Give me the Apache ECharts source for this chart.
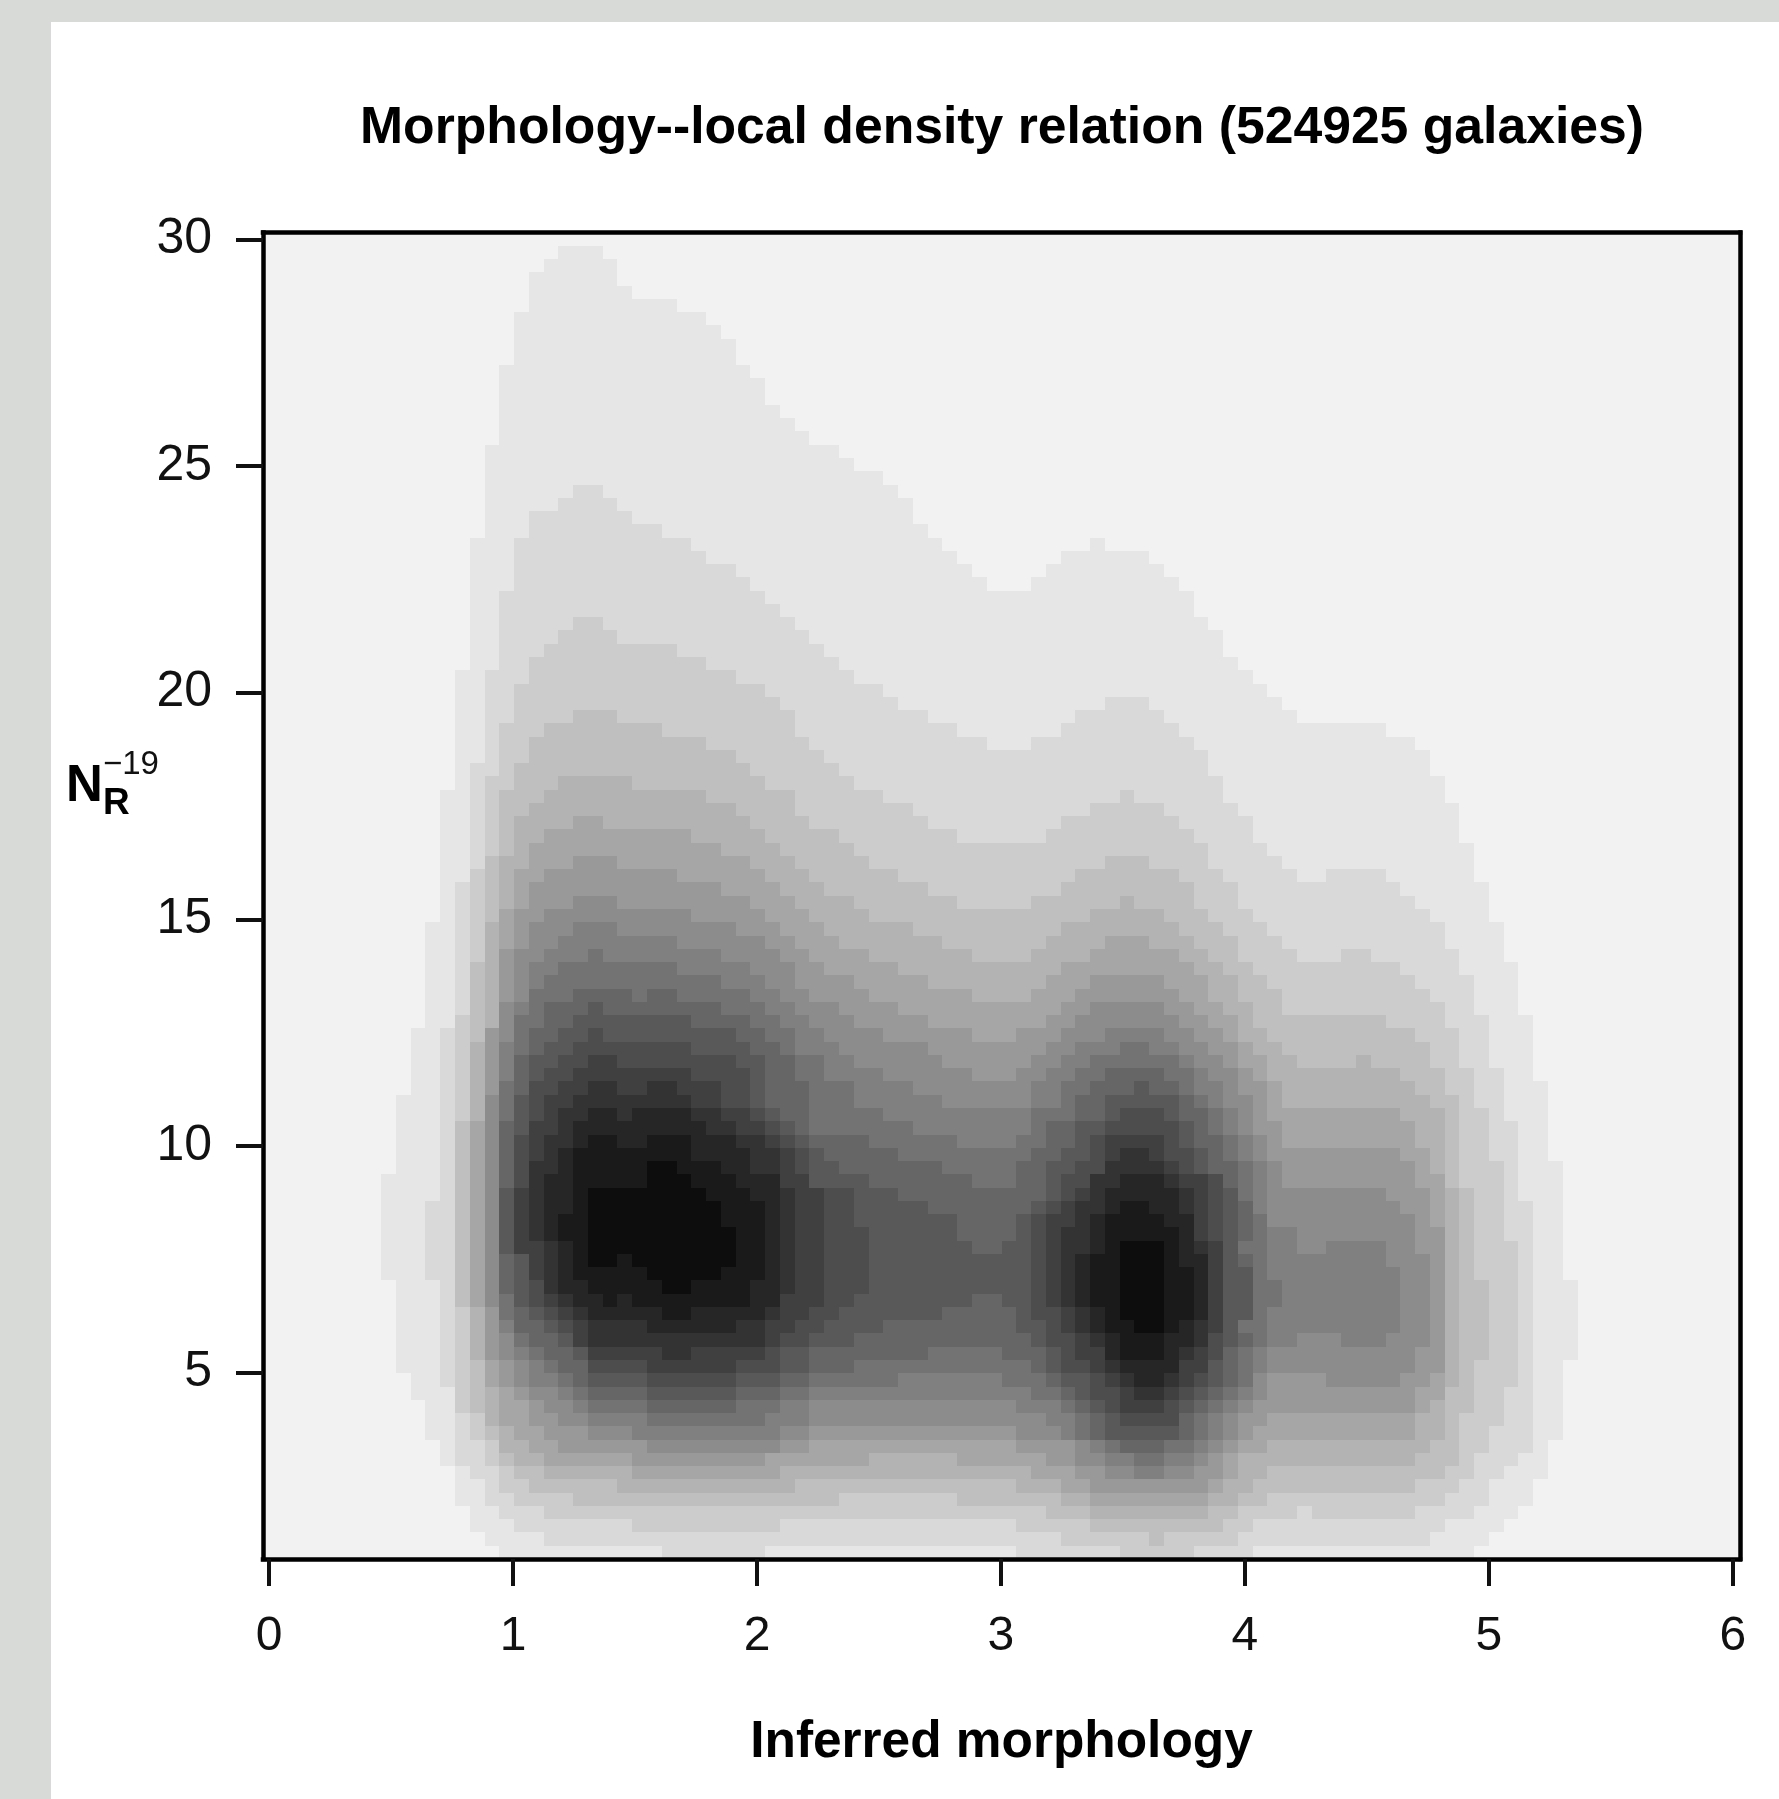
<!DOCTYPE html>
<html><head><meta charset="utf-8">
<style>html,body{margin:0;padding:0;background:#d7dad6}#c{width:1779px;height:1799px}</style>
<script src="https://cdn.jsdelivr.net/npm/echarts@6/dist/echarts.min.js"></script>
</head><body><div id="c"></div>
<script>
const titleText = "Morphology--local density relation (524925 galaxies)";
const xLabelText = "Inferred morphology";
const xTicks = [0,1,2,3,4,5,6];
const yTicks = [5,10,15,20,25,30];
const xRange = [-0.0246, 6.029];
const yRange = [0.887, 30.15];
const gridSize = 100;
// grey of each density level: gray(0.95, 0.90, ... 0.05)
const levelGreys = [0.95,0.90,0.85,0.80,0.75,0.70,0.65,0.60,0.55,0.50,0.45,0.40,0.35,0.30,0.25,0.20,0.15,0.10,0.05];
// one list per image row, top to bottom: start column, level, start column, level ...
const rowRuns = [
[],
[20,1,23,0],
[19,1,24,0],
[18,1,24,0],
[18,1,25,0],
[18,1,28,0],
[17,1,30,0],
[17,1,31,0],
[17,1,32,0],
[17,1,32,0],
[16,1,33,0],
[16,1,34,0],
[16,1,34,0],
[16,1,35,0],
[16,1,36,0],
[16,1,37,0],
[15,1,39,0],
[15,1,40,0],
[15,1,42,0],
[15,1,21,2,23,1,43,0],
[15,1,20,2,24,1,44,0],
[15,1,18,2,25,1,44,0],
[15,1,18,2,27,1,45,0],
[14,1,17,2,29,1,46,0,56,1,57,0],
[14,1,17,2,30,1,47,0,54,1,60,0],
[14,1,17,2,32,1,48,0,53,1,61,0],
[14,1,17,2,33,1,49,0,52,1,62,0],
[14,1,16,2,34,1,63,0],
[14,1,16,2,35,1,63,0],
[14,1,16,2,21,3,23,2,36,1,64,0],
[14,1,16,2,20,3,24,2,37,1,65,0],
[14,1,16,2,19,3,28,2,38,1,65,0],
[14,1,16,2,18,3,30,2,39,1,66,0],
[13,1,15,2,18,3,32,2,40,1,67,0],
[13,1,15,2,17,3,34,2,42,1,68,0],
[13,1,15,2,17,3,35,2,43,1,57,2,60,1,69,0],
[13,1,15,2,17,3,21,4,24,3,36,2,45,1,55,2,61,1,70,0],
[13,1,15,2,16,3,19,4,27,3,36,2,47,1,54,2,62,1,76,0],
[13,1,15,2,16,3,18,4,30,3,37,2,49,1,52,2,63,1,78,0],
[13,1,15,2,16,3,18,4,32,3,38,2,64,1,79,0],
[13,1,14,2,16,3,17,4,33,3,39,2,64,1,79,0],
[13,1,14,2,15,3,17,4,20,5,25,4,34,3,40,2,65,1,80,0],
[12,1,14,2,15,3,16,4,19,5,30,4,36,3,42,2,58,3,59,2,65,1,80,0],
[12,1,14,2,15,3,16,4,18,5,32,4,36,3,44,2,56,3,61,2,66,1,81,0],
[12,1,14,2,15,3,16,4,17,5,21,6,23,5,33,4,37,3,45,2,54,3,62,2,67,1,81,0],
[12,1,14,2,15,3,16,4,17,5,19,6,29,5,34,4,39,3,47,2,53,3,63,2,67,1,81,0],
[12,1,14,2,15,3,16,4,17,5,18,6,31,5,35,4,40,3,64,2,68,1,82,0],
[12,1,14,2,15,4,16,5,18,6,21,7,24,6,33,5,36,4,41,3,57,4,60,3,64,2,69,1,82,0],
[12,1,14,3,15,4,16,5,17,6,19,7,28,6,34,5,37,4,43,3,55,4,62,3,65,2,70,1,72,2,76,1,82,0],
[12,1,13,2,14,3,15,4,16,5,17,6,18,7,31,6,35,5,38,4,45,3,54,4,63,3,66,2,77,1,83,0],
[12,1,13,2,14,3,15,4,16,5,17,6,18,7,21,8,24,7,33,6,36,5,40,4,47,3,52,4,58,5,59,4,63,3,66,2,78,1,83,0],
[12,1,13,2,14,3,15,4,16,6,17,7,19,8,29,7,34,6,37,5,41,4,56,5,61,4,64,3,67,2,79,1,83,0],
[11,1,13,2,14,3,15,5,16,6,17,7,18,8,21,9,24,8,32,7,35,6,38,5,44,4,54,5,62,4,65,3,68,2,80,1,84,0],
[11,1,13,2,14,3,15,5,16,6,17,7,18,8,20,9,28,8,34,7,36,6,39,5,46,4,53,5,57,6,60,5,63,4,66,3,69,2,80,1,84,0],
[11,1,13,2,14,3,15,5,16,7,17,8,19,9,22,10,23,9,31,8,35,7,37,6,41,5,48,4,52,5,56,6,62,5,64,4,66,3,70,2,73,3,75,2,81,1,84,0],
[11,1,13,2,14,4,15,5,16,7,17,8,18,9,20,10,28,9,33,8,36,7,38,6,43,5,54,6,63,5,65,4,67,3,77,2,81,1,85,0],
[11,1,13,2,14,4,15,5,16,7,17,8,18,9,19,10,31,9,34,8,36,7,40,6,45,5,53,6,56,7,61,6,64,5,66,4,68,3,78,2,82,1,85,0],
[11,1,13,2,14,4,15,5,16,7,17,8,18,10,21,11,25,10,26,11,28,10,33,9,35,8,37,7,41,6,48,5,52,6,55,7,62,6,64,5,66,4,69,3,79,2,82,1,85,0],
[11,1,13,2,14,4,15,5,16,8,17,9,18,10,19,11,22,12,23,11,31,10,34,9,36,8,39,7,43,6,54,7,56,8,61,7,63,6,65,5,67,4,69,3,80,2,82,1,85,0],
[11,1,13,3,14,4,15,5,16,8,17,10,19,11,21,12,29,11,33,10,35,9,37,8,40,7,45,6,53,7,55,8,62,7,64,6,66,5,67,4,76,3,80,2,83,1,86,0],
[10,1,12,2,13,3,14,4,15,7,16,8,17,10,18,11,20,12,22,13,23,12,32,11,34,10,36,9,38,8,42,7,48,6,51,7,54,8,57,9,61,8,63,7,65,6,66,5,68,4,78,3,81,2,83,1,86,0],
[10,1,12,2,13,3,14,5,15,7,16,9,17,10,18,11,19,12,21,13,29,12,33,11,35,10,36,9,39,8,45,7,53,8,55,9,58,10,60,9,62,8,64,7,66,6,67,5,69,4,79,3,81,2,83,1,86,0],
[10,1,12,2,13,3,14,5,15,7,16,9,17,11,18,12,20,13,22,14,24,13,32,12,34,11,36,10,38,9,40,8,46,7,52,8,54,9,56,10,62,9,63,8,65,7,66,6,68,5,70,4,74,5,75,4,79,3,81,2,83,1,86,0],
[10,1,12,2,13,3,14,5,15,7,16,9,17,11,18,12,19,13,21,14,29,13,33,12,34,11,36,10,38,9,42,8,48,7,51,8,53,9,55,10,57,11,61,10,63,9,64,8,66,7,67,6,68,5,77,4,80,3,82,2,84,1,86,0],
[10,1,12,2,13,3,14,5,15,7,16,10,17,11,18,13,20,14,22,15,24,14,26,15,28,14,31,13,33,12,34,11,37,10,40,9,44,8,52,9,54,10,56,11,59,12,60,11,62,10,63,9,65,8,66,7,68,6,69,5,78,4,80,3,82,2,84,1,87,0],
[9,1,12,2,13,3,14,5,15,8,16,10,17,12,18,13,19,14,21,15,29,14,31,13,33,12,34,11,37,10,40,9,46,8,52,9,54,10,55,11,57,12,62,11,63,10,64,9,65,8,67,7,68,6,69,5,79,4,81,3,82,2,84,1,87,0],
[9,1,12,2,13,3,14,5,15,8,16,10,17,12,18,13,19,14,20,15,22,16,24,15,25,16,29,15,31,14,33,13,34,12,35,11,37,10,42,9,52,10,55,11,57,12,58,13,61,12,62,11,64,10,65,9,66,8,67,7,68,6,77,5,80,4,81,3,83,2,84,1,87,0],
[9,1,12,2,13,4,14,6,15,8,16,11,17,12,18,14,20,15,21,16,30,15,32,14,34,13,35,12,36,11,37,10,44,9,52,10,53,11,55,12,57,13,62,12,63,11,64,10,65,9,66,8,67,7,69,6,78,5,80,4,81,3,83,2,85,1,87,0],
[9,1,12,2,13,4,14,6,15,8,16,11,17,13,18,14,19,15,21,16,22,17,24,16,26,17,29,16,32,15,34,14,35,13,36,12,37,11,41,10,47,9,51,10,53,11,55,12,56,13,57,14,61,13,62,12,63,11,65,10,66,9,67,8,68,7,69,6,78,5,80,4,81,3,83,2,85,1,87,0],
[9,1,12,2,13,4,14,6,15,8,16,11,17,13,18,14,19,15,20,16,21,17,29,16,33,15,35,14,36,13,37,12,38,11,43,10,52,11,54,12,56,13,57,14,58,15,60,14,61,13,63,12,64,11,65,10,66,9,67,8,68,7,77,6,79,5,80,4,81,3,83,2,85,1,87,0],
[9,1,12,2,13,4,14,6,15,8,16,11,17,13,18,15,20,16,21,17,26,18,28,17,31,16,33,15,35,14,36,13,37,12,39,11,46,10,51,11,53,12,55,13,57,15,61,14,62,13,63,12,64,11,66,10,67,9,68,8,69,7,78,6,79,5,80,4,81,3,84,2,85,1,88,0],
[8,1,12,2,13,4,14,6,15,8,16,11,17,13,18,15,19,16,21,17,26,18,29,17,32,16,35,14,37,12,41,11,48,10,51,11,53,12,54,13,56,15,58,16,61,15,62,14,64,13,65,11,66,10,67,9,68,8,69,7,78,6,80,4,81,3,84,2,85,1,88,0],
[8,1,12,2,13,4,14,6,15,8,16,12,17,14,18,15,19,16,21,17,22,18,30,17,33,16,35,15,36,14,38,13,40,12,43,11,53,12,54,13,55,14,56,15,57,16,62,15,63,14,64,13,65,12,66,10,67,9,68,8,76,7,79,6,80,5,81,4,82,3,84,2,85,1,88,0],
[8,1,11,2,13,4,14,6,15,8,16,12,17,14,18,15,19,16,21,17,22,18,31,17,34,16,35,15,36,14,38,13,40,12,45,11,52,12,53,13,54,14,55,15,57,16,58,17,60,16,62,15,63,14,64,13,65,12,66,11,67,9,68,8,77,7,79,6,80,5,81,4,82,3,84,2,86,1,88,0],
[8,1,11,2,13,4,14,6,15,8,16,12,17,14,18,15,19,16,20,17,22,18,31,17,34,16,35,15,36,14,38,13,40,12,47,11,51,12,52,13,53,14,55,15,56,16,57,17,61,16,63,14,64,13,65,12,66,11,67,10,68,8,78,7,79,6,80,5,81,4,82,3,84,2,86,1,88,0],
[8,1,11,2,13,4,14,6,15,8,16,12,17,14,18,15,19,16,20,17,22,18,32,17,34,16,35,15,36,14,38,13,41,12,47,11,51,12,52,13,53,14,54,15,56,16,57,17,62,16,63,14,64,13,65,12,66,11,67,10,68,9,70,8,78,7,80,5,81,4,82,3,84,2,86,1,88,0],
[8,1,11,2,13,4,14,6,15,8,16,12,17,14,19,15,20,16,21,17,22,18,32,17,34,16,35,15,36,14,38,13,41,12,48,11,50,12,52,13,53,14,54,15,56,16,57,17,58,18,61,17,62,16,63,15,64,14,65,12,66,10,68,9,70,8,72,9,76,8,78,7,80,5,81,4,82,3,85,2,86,1,88,0],
[8,1,11,2,13,4,14,6,15,8,16,11,17,12,18,14,19,15,20,16,21,17,22,18,24,17,25,18,32,17,34,16,35,15,36,14,38,13,41,12,52,13,53,14,54,15,55,16,56,17,58,18,61,17,62,16,64,14,65,12,66,11,67,10,68,9,76,8,79,7,80,5,81,4,82,3,85,2,86,1,88,0],
[8,1,11,2,13,4,14,6,15,8,16,11,17,12,18,14,19,15,20,16,21,17,26,18,31,17,34,16,35,15,36,14,38,13,41,12,52,13,53,14,54,15,55,16,56,17,58,18,61,17,63,16,64,14,65,12,67,10,68,9,77,8,79,7,80,5,81,4,82,3,85,2,86,1,88,0],
[9,1,12,2,13,4,14,6,15,8,16,11,17,12,18,13,19,15,20,16,22,17,27,18,29,17,33,16,35,15,36,14,38,13,41,12,52,13,53,14,54,15,55,16,56,17,58,18,61,17,63,16,64,14,65,12,67,10,69,9,77,8,79,7,80,5,81,4,83,3,85,2,86,1,89,0],
[9,1,12,2,13,4,14,6,15,8,16,10,17,12,18,13,19,14,20,15,21,16,23,17,24,16,25,17,33,16,35,14,38,13,40,12,48,11,50,12,52,13,53,14,54,15,55,16,56,17,58,18,61,17,63,16,64,14,65,12,67,10,69,9,77,8,79,7,80,5,81,4,83,3,85,2,86,1,89,0],
[9,1,12,2,13,3,14,5,15,7,16,10,17,11,18,12,19,13,20,14,21,15,22,16,27,17,29,16,34,15,35,14,37,13,39,12,46,11,51,12,52,13,54,14,55,15,56,16,57,17,58,18,61,17,63,16,64,14,65,12,67,10,68,9,77,8,79,7,80,5,81,4,83,3,85,2,86,1,89,0],
[9,1,12,2,13,3,14,5,15,7,16,9,17,11,19,12,20,13,21,14,22,15,26,16,32,15,34,14,36,13,38,12,42,11,51,12,53,13,54,14,55,15,56,16,57,17,59,18,61,17,62,16,63,15,64,14,65,12,66,10,68,9,77,8,79,7,80,5,81,4,83,3,85,2,86,1,89,0],
[9,1,12,2,13,3,14,5,15,7,16,8,17,10,18,11,20,12,21,14,22,15,34,14,35,13,37,12,40,11,52,12,53,13,55,14,56,15,57,16,58,17,61,16,63,15,64,13,65,12,66,11,67,10,68,9,70,8,73,9,76,8,79,7,80,5,81,4,83,3,85,2,86,1,89,0],
[9,1,12,2,13,3,14,5,15,7,16,8,17,9,18,10,19,11,21,12,22,14,27,15,29,14,34,13,35,12,37,11,45,10,50,11,53,12,54,13,55,14,57,16,58,17,61,16,62,15,63,14,64,13,65,11,66,10,67,9,68,8,78,7,80,5,81,4,83,3,85,2,86,1,89,0],
[9,1,12,2,13,3,14,4,15,6,16,7,17,8,18,9,19,10,20,11,22,13,26,14,32,13,35,12,37,11,40,10,52,11,53,12,54,13,56,14,57,15,58,16,62,14,64,12,65,11,66,10,67,9,68,8,78,7,80,5,81,4,82,3,85,2,86,1,88,0],
[10,1,12,2,13,3,14,4,15,6,16,7,17,8,18,9,20,10,21,11,22,12,26,13,32,12,35,11,37,10,43,9,50,10,53,11,54,12,56,13,57,14,58,15,59,16,61,15,62,14,63,13,64,12,65,11,66,10,67,8,68,7,72,8,77,7,79,6,80,5,81,4,82,3,85,2,86,1,88,0],
[10,1,13,3,14,4,15,5,16,6,17,7,18,8,20,9,21,10,22,11,26,12,32,11,35,10,37,9,52,10,54,11,55,12,56,13,58,14,59,15,61,14,62,13,63,12,64,11,65,10,66,9,67,8,68,7,78,6,80,4,82,3,84,2,86,1,88,0],
[11,1,13,3,14,4,15,5,16,6,18,7,19,8,21,9,22,10,26,11,32,10,35,9,37,8,51,9,54,10,55,11,56,12,57,13,58,14,61,13,62,12,63,11,64,10,65,9,66,8,67,7,78,6,79,5,80,4,82,3,84,2,86,1,88,0],
[11,1,13,2,14,3,15,5,16,6,18,7,20,8,22,9,26,10,34,9,37,8,53,9,55,10,56,11,57,12,58,13,62,11,63,10,64,9,65,8,66,7,68,6,78,5,80,4,81,3,84,2,86,1,88,0],
[11,1,13,2,14,3,15,4,16,5,17,6,19,7,22,8,25,9,35,8,37,7,51,8,54,9,55,10,56,11,57,12,62,11,63,10,64,9,65,8,66,7,67,6,78,5,80,4,81,3,83,2,86,1,88,0],
[12,1,13,2,15,3,16,5,18,6,20,7,26,8,35,7,37,6,51,7,55,8,56,9,57,10,58,11,61,10,63,9,64,8,65,7,66,6,68,5,79,4,81,3,83,2,86,1,87,0],
[12,1,13,2,15,3,16,4,17,5,19,6,25,7,34,6,41,5,47,6,53,7,55,8,57,9,59,10,61,9,63,8,64,7,65,6,66,5,78,4,81,3,82,2,85,1,87,0],
[13,1,14,2,16,3,17,4,19,5,25,6,35,5,52,6,55,7,57,8,59,9,61,8,63,7,65,6,66,5,68,4,80,3,82,2,84,1,87,0],
[13,1,15,2,16,3,18,4,24,5,36,4,51,5,54,6,56,7,64,6,65,5,67,4,78,3,81,2,83,1,86,0],
[13,1,15,2,17,3,21,4,39,3,47,4,54,5,56,6,64,5,66,4,68,3,80,2,83,1,86,0],
[14,1,16,2,19,3,53,4,56,5,64,4,66,3,70,2,71,3,78,2,82,1,85,0],
[14,1,17,2,25,3,35,2,51,3,56,4,65,3,67,2,80,1,84,0],
[15,1,19,2,54,3,60,4,61,3,66,2,79,1,83,0],
[16,1,27,2,34,1,51,2,58,3,63,2,67,1,82,0]
];

const cellData = [];
const xStep = (xRange[1]-xRange[0])/gridSize, yStep = (yRange[1]-yRange[0])/gridSize;
rowRuns.forEach((runs,row)=>{
  for(let i=0;i<runs.length;i+=2){
    const level = runs[i+1];
    if(!level) continue;
    const end = i+2<runs.length ? runs[i+2] : gridSize;
    cellData.push([xRange[0]+runs[i]*xStep, xRange[0]+end*xStep, yRange[1]-row*yStep, yRange[1]-(row+1)*yStep, level]);
  }
});
const grey = g => { const v=Math.round(g*255); return `rgb(${v},${v},${v})`; };
const font = 'Liberation Sans, Arial, sans-serif';
const frameLine = {show:true,onZero:false,lineStyle:{color:'#000',width:4.5,cap:'square'}};
const tickStyle = {show:true,length:27,lineStyle:{color:'#111',width:4}};
const chart = echarts.init(document.getElementById('c'),null,{renderer:'canvas'});
chart.setOption({
  animation:false,
  backgroundColor:'#d7dad6',
  grid:{show:true,left:263,right:39,top:232.5,bottom:240,backgroundColor:'#f2f2f2',borderWidth:0},
  title:{text:titleText,left:997,top:98,textAlign:'center',textStyle:{fontFamily:font,fontWeight:'bold',fontSize:51.7,color:'#000'}},
  xAxis:[
    {type:'value',min:xRange[0],max:xRange[1],position:'bottom',z:5,axisLine:frameLine,axisTick:{...tickStyle,customValues:xTicks},splitLine:{show:false},
     axisLabel:{customValues:xTicks,fontFamily:font,fontSize:48,color:'#111',margin:54,formatter:v=>String(Math.round(v))},
     name:xLabelText,nameLocation:'middle',nameGap:158,nameTextStyle:{fontFamily:font,fontWeight:'bold',fontSize:51.4,color:'#000'}},
    {type:'value',min:xRange[0],max:xRange[1],position:'top',z:5,axisLine:frameLine,axisTick:{show:false},axisLabel:{show:false},splitLine:{show:false}}
  ],
  yAxis:[
    {type:'value',min:yRange[0],max:yRange[1],position:'left',z:5,axisLine:frameLine,axisTick:{...tickStyle,customValues:yTicks},splitLine:{show:false},
     axisLabel:{customValues:yTicks,fontFamily:font,fontSize:50,color:'#111',margin:51,formatter:v=>String(Math.round(v))}},
    {type:'value',min:yRange[0],max:yRange[1],position:'right',z:5,axisLine:frameLine,axisTick:{show:false},axisLabel:{show:false},splitLine:{show:false}}
  ],
  series:[{
    type:'custom',z:2,clip:true,silent:true,
    encode:{x:[0,1],y:[2,3]},
    data:cellData,
    renderItem:(params,api)=>{
      const a=api.coord([api.value(0),api.value(2)]), b=api.coord([api.value(1),api.value(3)]);
      const x0=Math.round(a[0]),y0=Math.round(a[1]),x1=Math.round(b[0]),y1=Math.round(b[1]);
      return {type:'rect',shape:{x:x0,y:y0,width:x1-x0,height:y1-y0},style:{fill:grey(levelGreys[api.value(4)]),stroke:null}};
    }
  }],
  graphic:[
    {type:'rect',z:-1,silent:true,shape:{x:51,y:22,width:1728,height:1777},style:{fill:'#fff'}},
    {type:'text',left:66,top:761,style:{text:'N',font:'bold 51px '+font,fill:'#000'}},
    {type:'text',left:103,top:785,style:{text:'R',font:'bold 37px '+font,fill:'#000'}},
    {type:'text',left:103,top:748,style:{text:'\u221219',font:'33px '+font,fill:'#111'}}
  ]
});
</script></body></html>
